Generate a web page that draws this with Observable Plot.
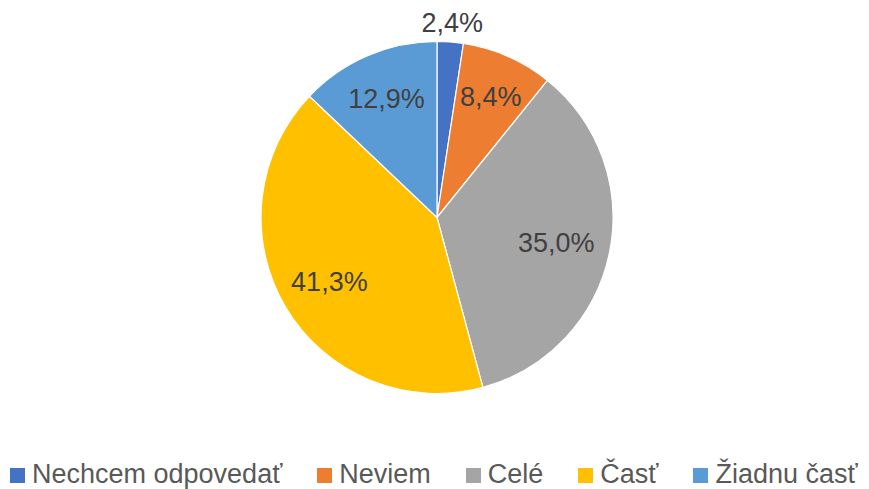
<!DOCTYPE html>
<html><head><meta charset="utf-8">
<script src="https://cdn.jsdelivr.net/npm/d3@7"></script>
<script src="https://cdn.jsdelivr.net/npm/@observablehq/plot@0.6"></script>
<style>
html,body{margin:0;padding:0;background:#fff;}
body{width:869px;height:489px;overflow:hidden;font-family:"Liberation Sans",Arial,sans-serif;}
#legend{display:flex;align-items:baseline;padding-left:10px;padding-top:14px;font-size:27px;color:#595959;white-space:nowrap;}
#legend .item{display:flex;align-items:baseline;margin-right:35px;}
#legend .item:last-child{margin-right:0;}
#legend .sw{display:inline-block;width:15px;height:15px;margin-right:7px;}
</style></head><body><div id="chart"></div><div id="legend"></div><script>
const categories = ["Nechcem odpovedať", "Neviem", "Celé", "Časť", "Žiadnu časť"];
const values = [2.4, 8.4, 35.0, 41.3, 12.9];
const labels = ["2,4%", "8,4%", "35,0%", "41,3%", "12,9%"];
const colors = ["#4472C4", "#ED7D31", "#A5A5A5", "#FFC000", "#5B9BD5"];
const labelRadius = [1.108, 0.75, 0.69, 0.715, 0.735];

const data = categories.map((c, i) => ({category: c, value: values[i], label: labels[i], color: colors[i], lr: labelRadius[i]}));
const arcs = d3.pie().sort(null).value(d => d.value)(data);
const labelData = arcs.map(a => {
  const mid = (a.startAngle + a.endAngle) / 2;
  return {label: a.data.label, x: a.data.lr * Math.sin(mid), y: a.data.lr * Math.cos(mid)};
});

function slices(index, scales) {
  const cx = scales.x(0), cy = scales.y(0), R = scales.x(1) - cx;
  const arc = d3.arc().innerRadius(0).outerRadius(R);
  const g = d3.create("svg:g").attr("transform", `translate(${cx},${cy})`);
  g.selectAll("path").data(arcs).join("path")
    .attr("d", arc)
    .attr("fill", d => d.data.color)
    .attr("stroke", "#fff")
    .attr("stroke-width", 1.2)
    .attr("stroke-linejoin", "round");
  return g.node();
}

const chart = Plot.plot({
  width: 869,
  height: 445,
  margin: 0,
  style: {background: "#fff", fontFamily: "'Liberation Sans', Arial, sans-serif"},
  x: {domain: [-1, 1], range: [261, 613], axis: null},
  y: {domain: [-1, 1], range: [393.5, 41.5], axis: null},
  marks: [
    slices,
    Plot.text(labelData, {x: "x", y: "y", text: "label", fontSize: 27, fill: "#404040"})
  ]
});
document.getElementById("chart").appendChild(chart);

const legend = d3.select("#legend");
const items = legend.selectAll(".item").data(data).join("div").attr("class", "item");
items.append("span").attr("class", "sw").style("background", d => d.color);
items.append("span").text(d => d.category);
</script></body></html>
